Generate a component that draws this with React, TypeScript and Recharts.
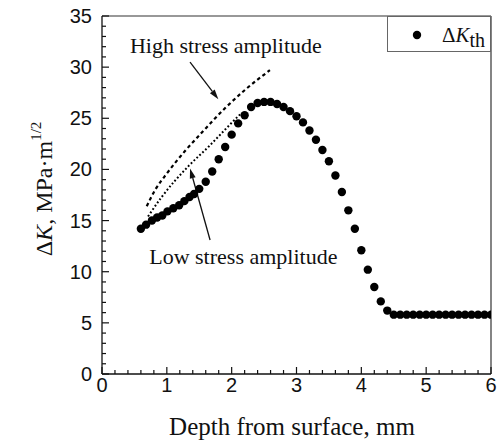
import React from "react";
import {
  ComposedChart,
  XAxis,
  YAxis,
  Scatter,
  Line,
  ReferenceLine,
  ReferenceDot,
  Legend,
} from "recharts";

// depth from surface (mm) and threshold values
const depth = [
  0.6, 0.68, 0.77, 0.85, 0.93, 1.01, 1.1, 1.19, 1.27, 1.35, 1.42, 1.5,
  1.6, 1.7, 1.8, 1.9, 2.0, 2.1, 2.2, 2.3, 2.4, 2.5, 2.6, 2.7, 2.8, 2.9,
  3.0, 3.1, 3.2, 3.3, 3.4, 3.5, 3.6, 3.7, 3.8, 3.9, 4.0, 4.1, 4.2, 4.3,
  4.4, 4.5, 4.6, 4.7, 4.8, 4.9, 5.0, 5.1, 5.2, 5.3, 5.4, 5.5, 5.6, 5.7,
  5.8, 5.9, 6.0,
];
const deltaKth = [
  14.2, 14.6, 15.0, 15.3, 15.5, 15.9, 16.2, 16.5, 16.9, 17.3, 17.6, 18.1,
  18.8, 19.8, 21.0, 22.2, 23.4, 24.5, 25.3, 26.1, 26.5, 26.6, 26.6, 26.4,
  26.1, 25.7, 25.2, 24.6, 23.8, 22.9, 21.9, 20.8, 19.4, 17.8, 16.0, 14.2,
  12.1, 10.2, 8.5, 7.1, 6.2, 5.8, 5.8, 5.8, 5.8, 5.8, 5.8, 5.8, 5.8, 5.8,
  5.8, 5.8, 5.8, 5.8, 5.8, 5.8, 5.8,
];

// dashed guide curves
const highDepth = [0.69, 0.82, 1.0, 1.28, 1.54, 1.9, 2.21, 2.59];
const highK = [16.4, 18.0, 19.6, 21.8, 23.6, 26.0, 27.8, 29.7];
const lowDepth = [0.71, 0.92, 1.33, 1.64, 1.9, 2.1, 2.15];
const lowK = [15.4, 17.3, 20.3, 22.2, 23.9, 25.2, 25.5];

const xTicks = [
  0, 0.2, 0.4, 0.6, 0.8, 1, 1.2, 1.4, 1.6, 1.8, 2, 2.2, 2.4, 2.6, 2.8, 3,
  3.2, 3.4, 3.6, 3.8, 4, 4.2, 4.4, 4.6, 4.8, 5, 5.2, 5.4, 5.6, 5.8, 6,
];
const xLabels = [0, 1, 2, 3, 4, 5, 6];
const yTicks = [
  0, 1, 2, 3, 4, 5, 6, 7, 8, 9, 10, 11, 12, 13, 14, 15, 16, 17, 18, 19, 20,
  21, 22, 23, 24, 25, 26, 27, 28, 29, 30, 31, 32, 33, 34, 35,
];
const yLabels = [0, 5, 10, 15, 20, 25, 30, 35];

const thData = depth.map((x, i) => ({ x, y: deltaKth[i] }));
const highData = highDepth.map((x, i) => ({ x, y: highK[i] }));
const lowData = lowDepth.map((x, i) => ({ x, y: lowK[i] }));

const INK = "#111";
const SERIF = "'Liberation Serif', 'Times New Roman', serif";
const SANS = "'Liberation Sans', Arial, sans-serif";

const XTick = (props: any) => {
  const { x, y, payload } = props;
  const major = xLabels.includes(payload.value);
  return (
    <g>
      <line x1={x} x2={x} y1={y} y2={y - (major ? 7 : 4)} stroke={INK} strokeWidth={1.2} />
      {major && (
        <text x={x} y={y + 18} textAnchor="middle" fontFamily={SANS} fontSize={20} fill={INK}>
          {payload.value}
        </text>
      )}
    </g>
  );
};

const YTick = (props: any) => {
  const { x, y, payload } = props;
  const major = yLabels.includes(payload.value);
  return (
    <g>
      <line x1={x} x2={x + (major ? 7 : 4)} y1={y} y2={y} stroke={INK} strokeWidth={1.2} />
      {major && (
        <text x={x - 10} y={y + 7} textAnchor="end" fontFamily={SANS} fontSize={20} fill={INK}>
          {payload.value}
        </text>
      )}
    </g>
  );
};

const YTitle = (props: any) => {
  const vb = props.viewBox || {};
  const cx = (vb.x ?? 0) + 52;
  const cy = (vb.y ?? 16) + (vb.height ?? 358) / 2 - 6;
  return (
    <text
      transform={`translate(${cx},${cy}) rotate(-90)`}
      textAnchor="middle"
      fontFamily={SERIF}
      fontSize={24}
      fill={INK}
    >
      <tspan>Δ</tspan>
      <tspan fontStyle="italic">K</tspan>
      <tspan>, MPa·m</tspan>
      <tspan fontSize={15} dy={-11}>1/2</tspan>
    </text>
  );
};

const XTitle = (props: any) => {
  const vb = props.viewBox || {};
  const cx = (vb.x ?? 102) + (vb.width ?? 389) / 2 - 4.5;
  const cy = (vb.y ?? 374) + 61;
  return (
    <text x={cx} y={cy} textAnchor="middle" fontFamily={SERIF} fontSize={25} fill={INK}>
      Depth from surface, mm
    </text>
  );
};

const Arrow = (p: any) => {
  const { x1, y1, x2, y2 } = p;
  const ang = Math.atan2(y2 - y1, x2 - x1);
  const len = 10;
  const half = 3;
  const bx = x2 - len * Math.cos(ang);
  const by = y2 - len * Math.sin(ang);
  const px = -Math.sin(ang) * half;
  const py = Math.cos(ang) * half;
  return (
    <g>
      <line x1={x1} y1={y1} x2={bx} y2={by} stroke={INK} strokeWidth={1.3} />
      <polygon
        points={`${x2},${y2} ${bx + px},${by + py} ${bx - px},${by - py}`}
        fill={INK}
      />
    </g>
  );
};

const LegendBox = () => (
  <svg width={104} height={36} style={{ display: "block" }}>
    <rect x={0.5} y={0.5} width={103} height={35} fill="#fff" stroke="#666" strokeWidth={1} />
    <circle cx={30} cy={19} r={4.2} fill="#000" />
    <text x={55} y={26} fontFamily={SERIF} fontSize={21} fill={INK}>
      <tspan>Δ</tspan>
      <tspan fontStyle="italic">K</tspan>
      <tspan fontSize={20} dy={5}>th</tspan>
    </text>
  </svg>
);

const Dot = (p: any) => <circle cx={p.cx} cy={p.cy} r={4.2} fill="#000" />;

export default function App() {
  return (
    <div style={{ width: 501, height: 443, background: "#fff" }}>
      <style>{"body { margin: 0; }"}</style>
      <ComposedChart width={501} height={443} margin={{ top: 16, right: 10, left: 0, bottom: 0 }}>
        <XAxis
          dataKey="x"
          type="number"
          domain={[0, 6]}
          ticks={xTicks}
          interval={0}
          tick={<XTick />}
          tickLine={false}
          tickSize={0}
          tickMargin={0}
          height={69}
          axisLine={{ stroke: INK, strokeWidth: 1.3 }}
          allowDataOverflow
          label={{ content: XTitle }}
        />
        <YAxis
          dataKey="y"
          type="number"
          domain={[0, 35]}
          ticks={yTicks}
          interval={0}
          tick={<YTick />}
          tickLine={false}
          tickSize={0}
          tickMargin={0}
          width={102}
          axisLine={{ stroke: INK, strokeWidth: 1.3 }}
          allowDataOverflow
          label={{ content: YTitle }}
        />
        <ReferenceLine y={35} stroke="#333" strokeWidth={1.2} />
        <ReferenceLine x={6} stroke="#333" strokeWidth={1.2} />
        <Line
          data={highData}
          dataKey="y"
          type="monotone"
          stroke="#000"
          strokeWidth={2.2}
          strokeDasharray="3.5 3"
          dot={false}
          legendType="none"
          isAnimationActive={false}
        />
        <Line
          data={lowData}
          dataKey="y"
          type="monotone"
          stroke="#000"
          strokeWidth={2}
          strokeDasharray="1.8 2.2"
          dot={false}
          legendType="none"
          isAnimationActive={false}
        />
        <Scatter
          name="ΔKth"
          data={thData}
          dataKey="y"
          shape={Dot}
          isAnimationActive={false}
        />
        <ReferenceLine
          segment={[
            { x: 1.358, y: 30.5 },
            { x: 1.795, y: 26.85 },
          ]}
          shape={Arrow}
        />
        <ReferenceLine
          segment={[
            { x: 1.667, y: 13.1 },
            { x: 1.358, y: 20.1 },
          ]}
          shape={Arrow}
        />
        <ReferenceDot
          x={1.91}
          y={32.1}
          r={0}
          stroke="none"
          label={{ value: "High stress amplitude", position: "center", fill: INK, fontSize: 22, fontFamily: SERIF }}
        />
        <ReferenceDot
          x={2.18}
          y={11.5}
          r={0}
          stroke="none"
          label={{ value: "Low stress amplitude", position: "center", fill: INK, fontSize: 22, fontFamily: SERIF }}
        />
        <Legend
          content={LegendBox}
          layout="horizontal"
          verticalAlign="middle"
          align="center"
          wrapperStyle={{ top: 16, left: 387, width: 104, height: 36 }}
        />
      </ComposedChart>
    </div>
  );
}
